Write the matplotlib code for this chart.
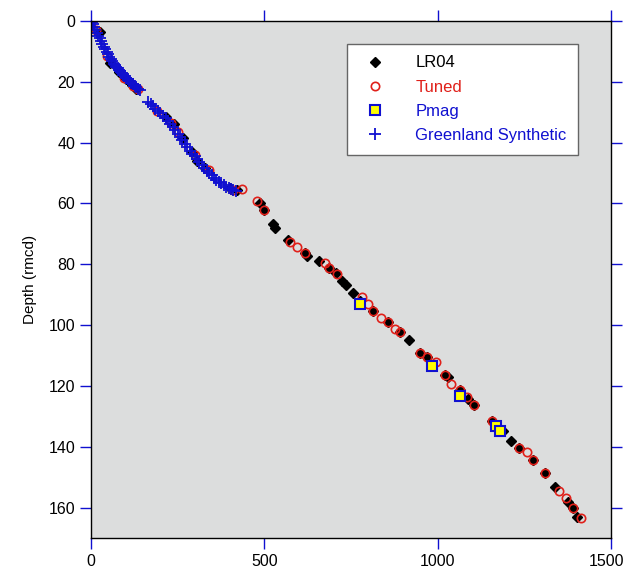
import matplotlib
matplotlib.use("Agg")
import matplotlib.pyplot as plt
import matplotlib.transforms as mtransforms

plt.rcParams['font.family'] = ['Liberation Sans', 'DejaVu Sans']

# age (ka) and depth (rmcd)
lr04_age = [0, 25, 55, 80, 100, 118, 130, 215, 240, 265, 290, 305, 330, 400, 420,
            487, 499, 526, 531, 569, 617, 622, 658, 687, 707, 723, 735, 757, 776,
            814, 858, 891, 917, 949, 970, 1021, 1031, 1064, 1088, 1105, 1156, 1189,
            1211, 1235, 1276, 1309, 1338, 1377, 1391, 1403]
lr04_depth = [0, 3.5, 13.8, 16.8, 19.2, 21.0, 22.5, 31.5, 34.0, 38.5, 43.0, 46.0, 48.5, 55.0, 55.6,
              59.8, 62.3, 66.9, 68.0, 72.1, 76.2, 77.3, 78.9, 81.1, 83.0, 85.5, 86.9, 89.3, 92.2,
              95.3, 98.9, 102.4, 104.9, 109.3, 110.6, 116.4, 117.2, 121.5, 124.3, 126.4, 131.4, 134.8,
              138.1, 140.3, 144.5, 148.5, 153.2, 158.1, 160.3, 163.0]

tuned_age = [0, 15, 45, 95, 120, 135, 190, 230, 250, 300, 340, 410, 435,
             478, 499, 574, 593, 617, 675, 687, 709, 783, 800, 814, 836, 858, 877, 891,
             949, 970, 995, 1021, 1040, 1064, 1084, 1105, 1156, 1235, 1257, 1276, 1309,
             1351, 1370, 1391, 1415]
tuned_depth = [0, 3.0, 11.5, 18.7, 21.5, 22.5, 29.5, 33.5, 36.5, 44.0, 49.0, 55.5, 55.4,
               59.2, 62.3, 72.7, 74.2, 76.2, 79.7, 81.1, 83.3, 90.9, 92.9, 95.3, 97.5, 98.9, 101.3, 102.4,
               109.3, 110.6, 112.2, 116.4, 119.3, 121.5, 123.7, 126.2, 131.4, 140.3, 141.7, 144.5, 148.5,
               154.6, 156.8, 160.3, 163.3]

pmag_age = [776, 983, 1064, 1168, 1180]
pmag_depth = [93.1, 113.5, 123.2, 133.2, 134.7]

green_age = [2, 5, 9, 13, 17, 21, 25, 29, 33, 37, 41, 45, 49, 53, 57, 61, 65, 69, 73, 77,
             81, 85, 89, 93, 97, 101, 106, 111, 116, 121, 126, 131, 136, 141,
             165, 172, 179, 186, 193, 200, 208, 215, 222, 229, 236, 243, 250, 257, 264,
             271, 278, 285, 292, 299, 306, 313, 320, 327, 334, 341, 348, 355, 362, 369,
             376, 383, 390, 397, 404, 411, 418]
green_depth = [0.3, 1.1, 2.0, 3.0, 3.9, 4.8, 5.7, 6.6, 7.5, 8.4, 9.3, 10.2, 11.0, 11.8, 12.6,
               13.3, 14.0, 14.6, 15.1, 15.6, 16.1, 16.6, 17.1, 17.6, 18.1, 18.6, 19.2, 19.8,
               20.3, 20.8, 21.3, 21.8, 22.3, 22.8,
               26.5, 27.3, 28.1, 28.9, 29.6, 30.4, 31.2, 32.0, 33.0, 34.0, 35.0, 36.0, 37.0,
               38.0, 39.2, 40.4, 41.5, 42.6, 43.6, 44.5, 45.4, 46.4, 47.4, 48.3, 49.2, 50.0,
               50.8, 51.5, 52.2, 52.8, 53.4, 54.0, 54.5, 54.9, 55.3, 55.6, 55.8]

x_ticks = [0, 500, 1000, 1500]
y_ticks = [0, 20, 40, 60, 80, 100, 120, 140, 160]


fig = plt.figure(figsize=(6.27, 5.69), dpi=100)
ax = fig.add_axes([0.1451, 0.0545, 0.8293, 0.9086])
ax.set_facecolor('#dcdddd')

ax.plot(lr04_age, lr04_depth, 'D', color='black', markersize=5.5, linestyle='none', label='LR04')
ax.plot(tuned_age, tuned_depth, 'o', mfc='none', mec='#e0201a', mew=1.2, markersize=6,
        linestyle='none', label='Tuned')
ax.plot(pmag_age, pmag_depth, 's', mfc='#ffff00', mec='#1010d0', mew=1.5, markersize=7,
        linestyle='none', label='Pmag')
ax.plot(green_age, green_depth, '+', color='#1010d0', mew=1.3, markersize=8,
        linestyle='none', label='Greenland Synthetic')

ax.set_xlim(0, 1500)
ax.set_ylim(170, 0)
ax.set_xticks(x_ticks)
ax.set_yticks(y_ticks)
ax.tick_params(direction='out', length=8, width=1, color='#1010d0', labelsize=11.5,
               top=True, right=True, labeltop=False, labelright=False)
for s in ax.spines.values():
    s.set_color('black')
    s.set_linewidth(1)

# nudge the last x label a little so it stays inside the figure
last = ax.get_xticklabels()[-1]
last.set_transform(last.get_transform() + mtransforms.ScaledTranslation(-4 / 100, 0, fig.dpi_scale_trans))

ax.set_ylabel('Depth (rmcd)', fontsize=11, labelpad=8)

leg = ax.legend(loc='upper right', bbox_to_anchor=(0.937, 0.956), fontsize=12,
                fancybox=False, framealpha=1, edgecolor='#666666',
                borderpad=0.7, handletextpad=1.4, labelspacing=0.55, borderaxespad=0)
for txt, c in zip(leg.get_texts(), ['black', '#e0201a', '#1010d0', '#1010d0']):
    txt.set_color(c)

fig.savefig('out.png', dpi=100)
